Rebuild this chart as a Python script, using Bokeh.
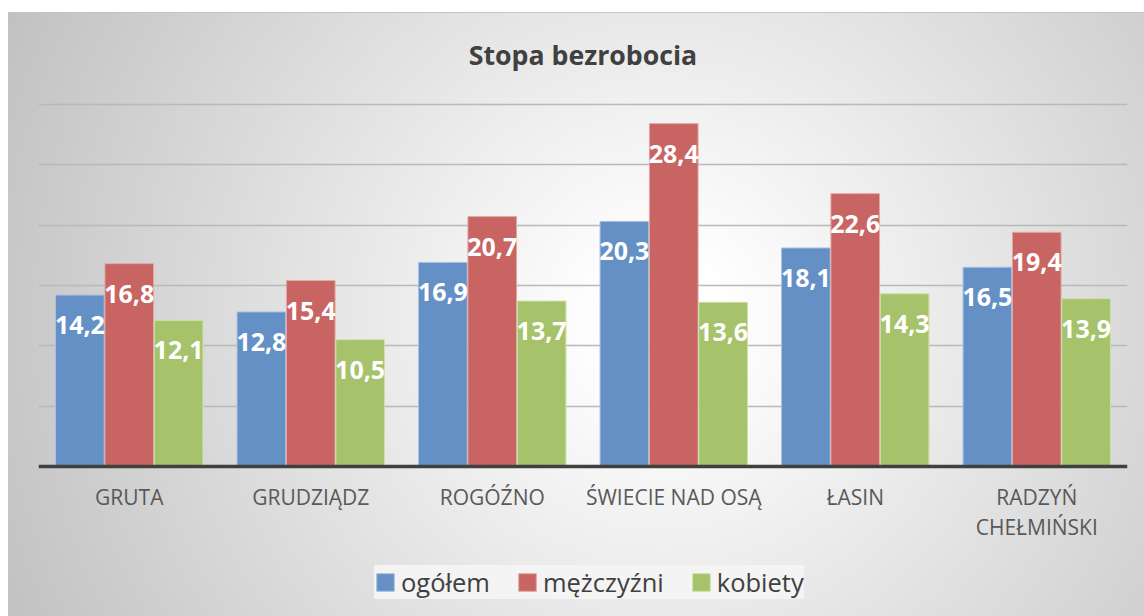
from bokeh.plotting import figure
from bokeh.models import ColumnDataSource, FactorRange, Range1d, LabelSet, Legend, LegendItem, FixedTicker, Span
from bokeh.core.properties import value
from bokeh.transform import dodge
from bokeh.embed import file_html
from bokeh.resources import INLINE

categories = ["GRUTA", "GRUDZIĄDZ", "ROGÓŹNO", "ŚWIECIE NAD OSĄ", "ŁASIN", "RADZYŃ CHEŁMIŃSKI"]
category_labels = ["GRUTA", "GRUDZIĄDZ", "ROGÓŹNO", "ŚWIECIE NAD OSĄ", "ŁASIN", "RADZYŃ\nCHEŁMIŃSKI"]
ogolem = [14.2, 12.8, 16.9, 20.3, 18.1, 16.5]
mezczyzni = [16.8, 15.4, 20.7, 28.4, 22.6, 19.4]
kobiety = [12.1, 10.5, 13.7, 13.6, 14.3, 13.9]
series_names = ["ogółem", "mężczyźni", "kobiety"]
y_ticks = [5, 10, 15, 20, 25, 30]

colors = ["#6490c6", "#c86461", "#a6c26b"]
edge = ["#a9c1e2", "#e2a8a6", "#cde0a8"]

def fmt(v):
    return ("%.1f" % v).replace(".", ",")

src = ColumnDataSource(dict(
    cat=categories, cat_label=category_labels,
    ogolem=ogolem, mezczyzni=mezczyzni, kobiety=kobiety,
    l_ogolem=[fmt(v) for v in ogolem],
    l_mezczyzni=[fmt(v) for v in mezczyzni],
    l_kobiety=[fmt(v) for v in kobiety],
))

# y range extends below zero to leave room for category labels and legend
p = figure(x_range=FactorRange(*categories, range_padding=0), y_range=Range1d(-12.43, 30.15),
           width=1144, height=616, output_backend="svg", toolbar_location=None,
           min_border_left=38, min_border_right=17, min_border_top=102, min_border_bottom=0)

p.styles = {
    "background": ("linear-gradient(#ffffff, #ffffff) 0 0 / 100% 12px no-repeat, "
                   "linear-gradient(#ffffff, #ffffff) 0 0 / 8px 100% no-repeat, "
                   "linear-gradient(#c4c4c4, #c4c4c4) 8px 12px / 100% 1px no-repeat, "
                   "radial-gradient(circle farthest-corner at 58% 52%, #ffffff 8%, #c0c0c0 100%)"),
}
p.background_fill_alpha = 0
p.border_fill_alpha = 0
p.outline_line_color = None

p.title.text = "Stopa bezrobocia"
p.title.align = "center"
p.title.text_font = "Open Sans"
p.title.text_font_style = "bold"
p.title.text_font_size = "26.7px"
p.title.text_color = "#404040"
p.title.standoff = 59

p.xaxis.visible = False
p.yaxis.visible = False
p.ygrid.ticker = FixedTicker(ticks=y_ticks)
p.ygrid.grid_line_color = "#b9b9b9"
p.ygrid.grid_line_width = 1.5
p.xgrid.grid_line_color = None

keys = ["ogolem", "mezczyzni", "kobiety"]
offsets = [-0.272, 0.0, 0.272]
renderers = []
for k, off, c, e in zip(keys, offsets, colors, edge):
    r = p.vbar(x=dodge("cat", off, range=p.x_range), top=k, width=0.268, source=src,
               fill_color=c, line_color=e, line_width=1)
    renderers.append(r)
    lab = LabelSet(x=dodge("cat", off, range=p.x_range), y=k, text="l_" + k, source=src,
                   text_align="center", text_baseline="middle", y_offset=-30,
                   text_color="white", text_font=value("Open Sans"), text_font_style="bold",
                   text_font_size="25px")
    p.add_layout(lab)

# category axis baseline and labels
p.add_layout(Span(location=0, dimension="width", line_color="#404040", line_width=3.5))
p.text(x="cat", y=0, text="cat_label", source=src, text_align="center", text_baseline="top",
       y_offset=17, text_font=value("Open Sans"), text_font_size="21px",
       text_color="#595959", text_line_height=1.05)

legend = Legend(items=[LegendItem(label=n, renderers=[r]) for n, r in zip(series_names, renderers)],
                orientation="horizontal", location=(336, 17))
legend.label_text_font = "Open Sans"
legend.label_text_font_size = "25.5px"
legend.label_text_color = "#404040"
legend.glyph_width = 22
legend.glyph_height = 22
legend.label_standoff = 5
legend.spacing = 26
legend.padding = 10
legend.margin = 0
legend.background_fill_color = "#f4f4f4"
legend.background_fill_alpha = 1
legend.border_line_color = None
p.add_layout(legend, "center")

open("out.html", "w").write(file_html(p, INLINE))
